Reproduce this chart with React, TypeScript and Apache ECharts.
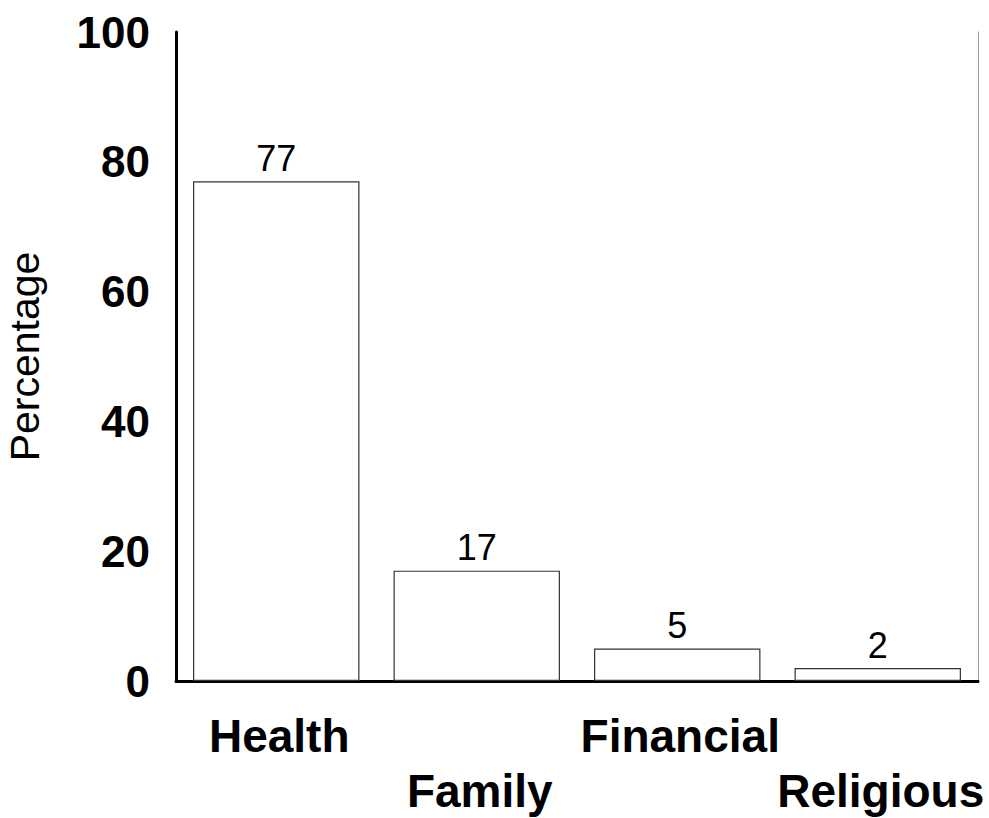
import React, { useEffect, useRef } from "react";
import * as echarts from "echarts";

const categories = ["Health", "Family", "Financial", "Religious"];
const percentages = [77, 17, 5, 2];
const yTicks = [0, 20, 40, 60, 80, 100];
const yAxisTitle = "Percentage";

const FONT = "'Liberation Sans', Arial, Helvetica, sans-serif";

export default function App() {
  const ref = useRef<HTMLDivElement>(null);
  useEffect(() => {
    if (!ref.current) return;
    const chart = echarts.init(ref.current, undefined, { renderer: "svg" });
    chart.setOption({
      animation: false,
      backgroundColor: "#ffffff",
      grid: {
        left: 176,
        right: 11,
        top: 32,
        bottom: 137,
        containLabel: false,
        outerBoundsMode: "none",
      },
      xAxis: [
        {
          type: "category",
          data: categories,
          position: "bottom",
          axisLine: { show: true, lineStyle: { color: "#000", width: 3 } },
          axisTick: { show: false },
          axisLabel: {
            interval: 0,
            margin: 27,
            fontFamily: FONT,
            fontWeight: "bold",
            fontSize: 46,
            lineHeight: 55,
            color: "#000",
            padding: [0, 0, 0, 6],
            formatter: (v: string) => {
              const i = categories.indexOf(v);
              return i % 2 === 1 ? "\n" + v : v;
            },
          },
          splitLine: { show: false },
        },
        {
          type: "category",
          data: categories,
          position: "top",
          axisLine: { show: true, lineStyle: { color: "#000", width: 2 } },
          axisTick: { show: false },
          axisLabel: { show: false },
        },
      ],
      yAxis: [
        {
          type: "value",
          min: yTicks[0],
          max: yTicks[yTicks.length - 1],
          interval: 20,
          position: "left",
          name: yAxisTitle,
          nameLocation: "middle",
          nameGap: 131,
          nameRotate: 90,
          nameTextStyle: { fontFamily: FONT, fontSize: 41, color: "#000" },
          axisLine: { show: true, lineStyle: { color: "#000", width: 3 } },
          axisTick: { show: false },
          axisLabel: {
            margin: 26,
            fontFamily: FONT,
            fontWeight: "bold",
            fontSize: 44,
            color: "#000",
            padding: [8, 0, 0, 0],
          },
          splitLine: { show: false },
        },
        {
          type: "value",
          min: yTicks[0],
          max: yTicks[yTicks.length - 1],
          interval: 20,
          position: "right",
          axisLine: { show: true, lineStyle: { color: "#888", width: 1, type: "dotted" } },
          axisTick: { show: false },
          axisLabel: { show: false },
          splitLine: { show: false },
        },
      ],
      series: [
        {
          type: "bar",
          data: percentages,
          barCategoryGap: "17%",
          itemStyle: { color: "#ffffff", borderColor: "#333", borderWidth: 1.2 },
          label: {
            show: true,
            position: "top",
            distance: 5,
            fontFamily: FONT,
            fontSize: 36,
            color: "#000",
          },
        },
      ],
    });
    return () => chart.dispose();
  }, []);
  return <div ref={ref} style={{ width: 989, height: 818, position: "absolute", left: 0, top: 0 }} />;
}
